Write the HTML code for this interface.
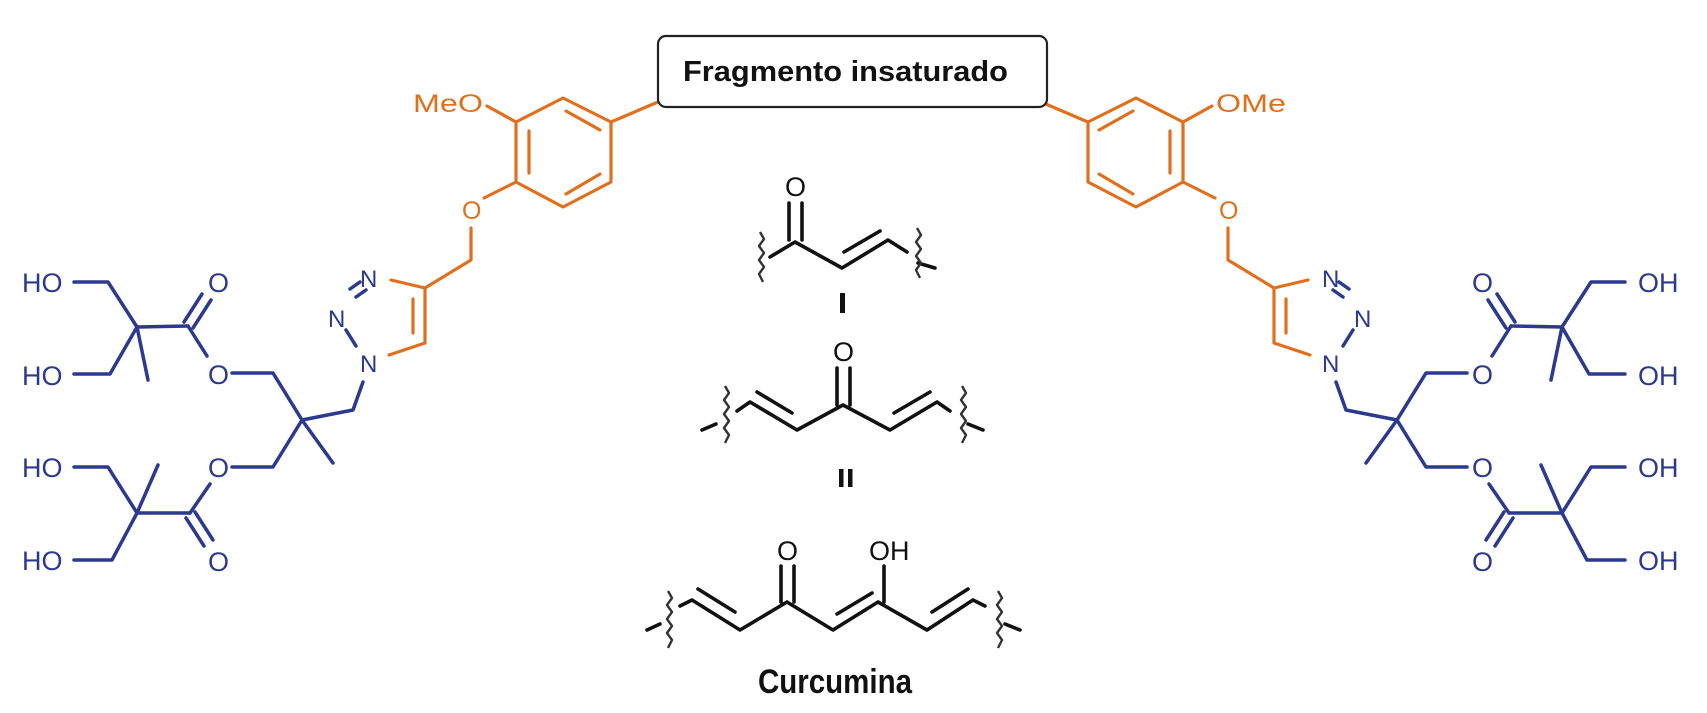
<!DOCTYPE html>
<html><head><meta charset="utf-8"><style>
html,body{margin:0;padding:0;background:#fff;}
svg{display:block;}
.b{stroke:#2B3990;stroke-width:3.5;fill:none;stroke-linecap:round;stroke-linejoin:round}
.o{stroke:#E0701E;stroke-width:3.2;fill:none;stroke-linecap:round;stroke-linejoin:round}
.k{stroke:#111;stroke-width:3.6;fill:none;stroke-linecap:round;stroke-linejoin:round}
.w{stroke:#333;stroke-width:2.4;fill:none;stroke-linejoin:round}
.tb{font-family:"Liberation Sans",sans-serif;font-size:27px;fill:#2B3990}
.to{font-family:"Liberation Sans",sans-serif;font-size:25px;fill:#E0701E}
.tk{font-family:"Liberation Sans",sans-serif;font-size:27px;fill:#111}
.bold{font-family:"Liberation Sans",sans-serif;font-weight:bold;fill:#111}
</style></head><body>
<svg width="1707" height="713" viewBox="0 0 1707 713" xmlns="http://www.w3.org/2000/svg">
<defs>
<g id="half">
 <g class="b">
  <polyline points="74,282 108,282 137,327 110,374 74,374"/>
  <line x1="137" y1="327" x2="148" y2="380"/>
  <line x1="137" y1="327" x2="188" y2="326"/>
  <line x1="184" y1="322" x2="202" y2="294"/>
  <line x1="193" y1="328" x2="211" y2="300"/>
  <line x1="188" y1="326" x2="207" y2="356"/>
  <polyline points="232,373 273,373 302,420 353,410 363,382"/>
  <line x1="302" y1="420" x2="333" y2="463"/>
  <polyline points="302,420 273,467 232,467"/>
  <line x1="210" y1="484" x2="190" y2="513"/>
  <line x1="186" y1="518" x2="204" y2="546"/>
  <line x1="195" y1="512" x2="213" y2="540"/>
  <line x1="190" y1="513" x2="137" y2="513"/>
  <line x1="137" y1="513" x2="158" y2="465"/>
  <polyline points="137,513 108,467 74,467"/>
  <polyline points="137,513 112,560 74,560"/>
  <line x1="366" y1="290" x2="356" y2="297"/>
  <line x1="360" y1="282" x2="350" y2="289"/>
  <line x1="346" y1="330" x2="356" y2="346"/>
 </g>
 <g class="o">
  <polyline points="391,280 425,288 425,343 389,355"/>
  <line x1="413" y1="299" x2="413" y2="333"/>
  <polyline points="425,288 471,260 471,228"/>
  <polyline points="484,198 516,182"/>
  <polygon points="516,122 563,98 611,122 611,182 563,207 516,182"/>
  <line x1="529" y1="131" x2="529" y2="173"/>
  <line x1="566" y1="111" x2="600" y2="130"/>
  <line x1="600" y1="174" x2="566" y2="194"/>
  <line x1="516" y1="122" x2="487" y2="106"/>
  <line x1="611" y1="122" x2="658" y2="102"/>
 </g>
</g>
</defs>
<use href="#half"/>
<use href="#half" transform="translate(1699,0) scale(-1,1)"/>

<g class="tb">
 <text x="22" y="292">HO</text>
 <text x="22" y="385">HO</text>
 <text x="22" y="477">HO</text>
 <text x="22" y="570">HO</text>
 <text x="208" y="292">O</text>
 <text x="208" y="384">O</text>
 <text x="208" y="477">O</text>
 <text x="208" y="571">O</text>
 <text x="360" y="287" font-size="24">N</text>
 <text x="328" y="327" font-size="24">N</text>
 <text x="360" y="372" font-size="24">N</text>
</g>
<g class="to">
 <text x="413" y="112" textLength="70" lengthAdjust="spacingAndGlyphs">MeO</text>
 <text x="462" y="219">O</text>
</g>
<g class="tb">
 <text x="1638" y="292">OH</text>
 <text x="1638" y="385">OH</text>
 <text x="1638" y="477">OH</text>
 <text x="1638" y="570">OH</text>
 <text x="1472" y="292">O</text>
 <text x="1472" y="384">O</text>
 <text x="1472" y="477">O</text>
 <text x="1472" y="571">O</text>
 <text x="1322" y="287" font-size="24">N</text>
 <text x="1354" y="327" font-size="24">N</text>
 <text x="1322" y="372" font-size="24">N</text>
</g>
<g class="to">
 <text x="1216" y="112" textLength="70" lengthAdjust="spacingAndGlyphs">OMe</text>
 <text x="1219" y="219">O</text>
</g>

<rect x="658" y="36" width="389" height="71" rx="8" fill="#fff" stroke="#222" stroke-width="2.2"/>
<text class="bold" x="683" y="81" font-size="29" textLength="325" lengthAdjust="spacingAndGlyphs">Fragmento insaturado</text>

<g class="k">
 <line x1="789" y1="203" x2="789" y2="240"/>
 <line x1="802" y1="203" x2="802" y2="240"/>
 <polyline points="770,257 795,242 842,268 888,240 907,252"/>
 <line x1="844" y1="252" x2="880" y2="231"/>
 <line x1="918" y1="263" x2="935" y2="268"/>
</g>
<text class="tk" x="785" y="196">O</text>
<path class="w" d="M760,232 l4,7 -5,7 5,7 -5,7 5,7 -5,7 4,8"/>
<path class="w" d="M917,228 l4,7 -5,7 5,7 -5,7 5,7 -5,7 4,8"/>
<rect x="840" y="293" width="5" height="20" fill="#111"/>

<g class="k">
 <line x1="837" y1="368" x2="837" y2="405"/>
 <line x1="850" y1="368" x2="850" y2="405"/>
 <polyline points="737,411 750,402 797,430 843,405 890,430 937,402 950,411"/>
 <line x1="757" y1="392" x2="792" y2="413"/>
 <line x1="894" y1="413" x2="930" y2="392"/>
 <line x1="702" y1="430" x2="716" y2="424"/>
 <line x1="968" y1="424" x2="983" y2="430"/>
</g>
<text class="tk" x="833" y="361">O</text>
<path class="w" d="M725,386 l4,7 -5,7 5,7 -5,7 5,7 -5,7 5,7 -4,8"/>
<path class="w" d="M962,386 l4,7 -5,7 5,7 -5,7 5,7 -5,7 5,7 -4,8"/>
<rect x="839" y="469" width="4.5" height="18" fill="#111"/>
<rect x="848" y="469" width="4.5" height="18" fill="#111"/>

<g class="k">
 <line x1="781" y1="566" x2="781" y2="602"/>
 <line x1="794" y1="566" x2="794" y2="602"/>
 <line x1="884" y1="566" x2="884" y2="602"/>
 <polyline points="680,606 692,600 740,630 787,602 833,630 878,602 927,630 973,600 985,606"/>
 <line x1="698" y1="589" x2="735" y2="612"/>
 <line x1="837" y1="614" x2="872" y2="593"/>
 <line x1="932" y1="612" x2="968" y2="589"/>
 <line x1="647" y1="630" x2="660" y2="624"/>
 <line x1="1005" y1="624" x2="1020" y2="630"/>
</g>
<text class="tk" x="777" y="560">O</text>
<text class="tk" x="869" y="560">OH</text>
<path class="w" d="M668,591 l4,7 -5,7 5,7 -5,7 5,7 -5,7 5,7 -4,8"/>
<path class="w" d="M998,591 l4,7 -5,7 5,7 -5,7 5,7 -5,7 5,7 -4,8"/>
<text class="bold" x="758" y="693" font-size="34" textLength="154" lengthAdjust="spacingAndGlyphs">Curcumina</text>
</svg>
</body></html>
